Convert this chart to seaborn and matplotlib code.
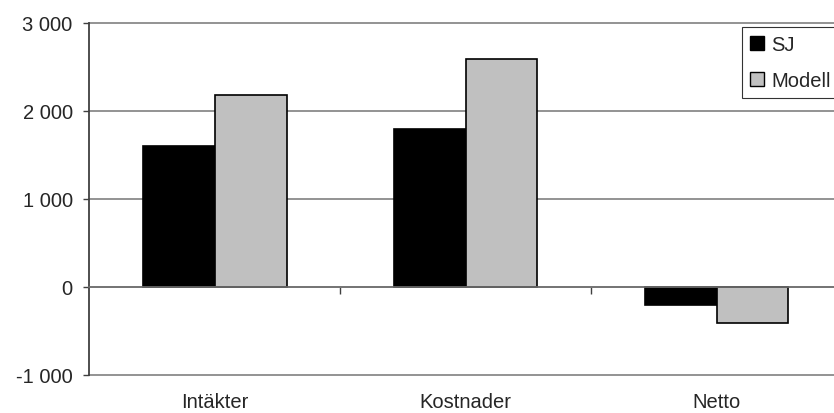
import matplotlib
matplotlib.use("Agg")
import matplotlib.pyplot as plt
import seaborn as sns
import pandas as pd
from matplotlib.ticker import FixedLocator, FuncFormatter
from matplotlib.patches import Patch

categories = ["Intäkter", "Kostnader", "Netto"]
series = ["SJ", "Modell"]
sj_values = [1600, 1800, -210]
modell_values = [2180, 2590, -410]
y_ticks = [-1000, 0, 1000, 2000, 3000]

df = pd.DataFrame({
    "kategori": categories * 2,
    "serie": [series[0]] * 3 + [series[1]] * 3,
    "varde": sj_values + modell_values,
})

sns.set_style("white")
plt.rcParams["font.family"] = ["Liberation Sans", "DejaVu Sans"]

FS = 14.5
W, H = 834, 414
fig = plt.figure(figsize=(W / 100, H / 100), dpi=100)
left, right, top, bottom = 89.3, 842.0, 24.0, 375.7
ax = fig.add_axes([left / W, 1 - bottom / H, (right - left) / W, (bottom - top) / H])

palette = {"SJ": "#000000", "Modell": "#C0C0C0"}
sns.barplot(data=df, x="kategori", y="varde", hue="serie", order=categories,
            hue_order=series, palette=palette, width=0.572, gap=0,
            edgecolor="black", linewidth=1.2, saturation=1, ax=ax, legend=False,
            errorbar=None)

ax.set_xlim(-0.5, 2.5)
ax.set_ylim(-1000, 3000)
ax.set_xlabel("")
ax.set_ylabel("")

# y axis: gridlines and thousands with a space separator
ax.yaxis.set_major_locator(FixedLocator(y_ticks))
ax.yaxis.set_major_formatter(FuncFormatter(lambda v, p: f"{int(v):,}".replace(",", " ")))
ax.grid(axis="y", color="#808080", linewidth=1.2)
for gl in ax.get_ygridlines():
    gl.set_clip_on(False)
ax.set_axisbelow(True)
ax.tick_params(axis="y", direction="out", length=4, width=1, color="#404040",
               labelsize=FS, pad=8, left=True)

for s in ["top", "right"]:
    ax.spines[s].set_visible(False)
ax.spines["left"].set_color("#404040")
ax.spines["left"].set_linewidth(1.3)
ax.spines["bottom"].set_position(("data", 0))
ax.spines["bottom"].set_color("#707070")
ax.spines["bottom"].set_linewidth(1.2)

# category labels sit below the plot; dividers between categories on the zero line
ax.set_xticks(range(len(categories)))
ax.set_xticklabels(categories)
ax.tick_params(axis="x", which="major", length=0, labelsize=FS, pad=76)
ax.xaxis.set_minor_locator(FixedLocator([0.5, 1.5]))
ax.tick_params(axis="x", which="minor", direction="out", length=5, width=1,
               color="#404040", bottom=True)

# legend
handles = [Patch(facecolor=palette[s], edgecolor="black", linewidth=1.0, label=s) for s in series]
leg = fig.legend(handles=handles, loc="upper left",
                 bbox_to_anchor=(741.7 / W, 1 - 28.3 / H),
                 bbox_transform=fig.transFigure,
                 fancybox=False, frameon=True, fontsize=FS,
                 handlelength=0.7, handleheight=0.7, handletextpad=0.35,
                 labelspacing=0.83, borderpad=0.4, borderaxespad=0)
leg.get_frame().set_edgecolor("#000000")
leg.get_frame().set_linewidth(0.8)

fig.savefig("out.png", dpi=100)
